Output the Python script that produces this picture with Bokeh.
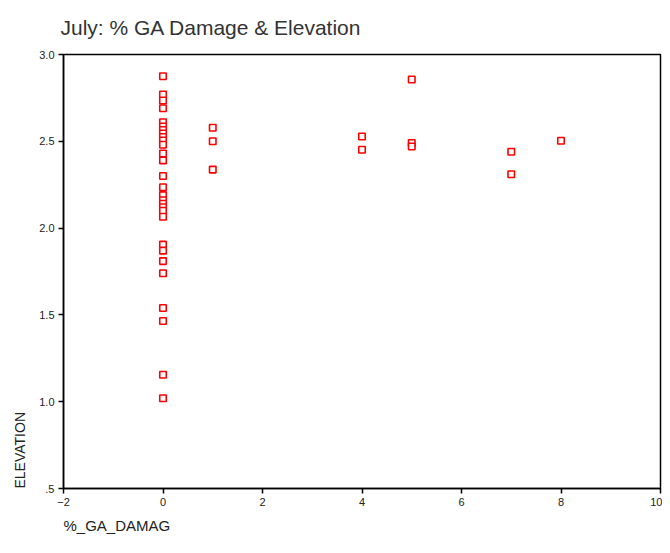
from bokeh.plotting import figure
from bokeh.models import Range1d, FixedTicker, Title
from bokeh.embed import file_html
from bokeh.resources import INLINE

# ---- data ----
damage = [0]*29 + [1]*3 + [4]*2 + [5]*3 + [7]*2 + [8]
elevation = [2.875, 2.77, 2.735, 2.69, 2.61, 2.585, 2.565, 2.545, 2.525, 2.505,
             2.48, 2.43, 2.39, 2.30, 2.235, 2.19, 2.16, 2.14, 2.12, 2.10,
             2.065, 1.905, 1.87, 1.81, 1.74, 1.54, 1.465, 1.155, 1.02,
             2.578, 2.50, 2.337,
             2.528, 2.451,
             2.856, 2.49, 2.47,
             2.44, 2.31,
             2.503]
x_ticks = [-2, 0, 2, 4, 6, 8, 10]
y_ticks = [0.5, 1.0, 1.5, 2.0, 2.5, 3.0]
y_tick_labels = [".5", "1.0", "1.5", "2.0", "2.5", "3.0"]
title_text = "July: % GA Damage & Elevation"
x_label = "%_GA_DAMAG"
y_label = "ELEVATION"

FONT = "Liberation Sans"

p = figure(width=662, height=545, output_backend="svg", toolbar_location=None,
           x_range=Range1d(-2, 10), y_range=Range1d(0.5, 3.0),
           min_border_left=63, min_border_right=2, min_border_top=54,
           min_border_bottom=57)
p.background_fill_color = "white"
p.border_fill_color = "white"
p.grid.visible = False
p.outline_line_color = "black"
p.outline_line_width = 1.5

# title
p.title.text = title_text
p.title.align = "left"
p.title.vertical_align = "top"
p.title.text_font = FONT
p.title.text_font_size = "21px"
p.title.text_font_style = "normal"
p.title.text_color = "#333333"
p.title.offset = -3
p.title.standoff = 28

for ax in (p.xaxis[0], p.yaxis[0]):
    ax.axis_line_color = "black"
    ax.axis_line_width = 1.5
    ax.major_tick_line_color = "black"
    ax.major_tick_line_width = 1.5
    ax.major_tick_in = 0
    ax.major_tick_out = 5
    ax.minor_tick_line_color = None
    ax.major_label_text_font = FONT
    ax.major_label_text_font_size = "11px"
    ax.major_label_text_color = "#222222"
    ax.major_label_standoff = 4

p.xaxis[0].ticker = FixedTicker(ticks=x_ticks)
p.yaxis[0].ticker = FixedTicker(ticks=y_ticks)
p.yaxis[0].major_label_overrides = {t: l for t, l in zip(y_ticks, y_tick_labels)}

p.add_layout(Title(text=x_label, align="left", offset=0, standoff=17,
                   vertical_align="top",
                   text_font=FONT, text_font_size="15px", text_font_style="normal",
                   text_color="#222222"), "below")
p.add_layout(Title(text=y_label, align="left", offset=0, standoff=14,
                   vertical_align="top",
                   text_font=FONT, text_font_size="14px", text_font_style="normal",
                   text_color="#222222"), "left")

p.scatter(damage, elevation, marker="square", size=6.5, fill_color="white",
          line_color="#ff0000", line_width=1.6)

open("out.html", "w").write(file_html(p, INLINE))
